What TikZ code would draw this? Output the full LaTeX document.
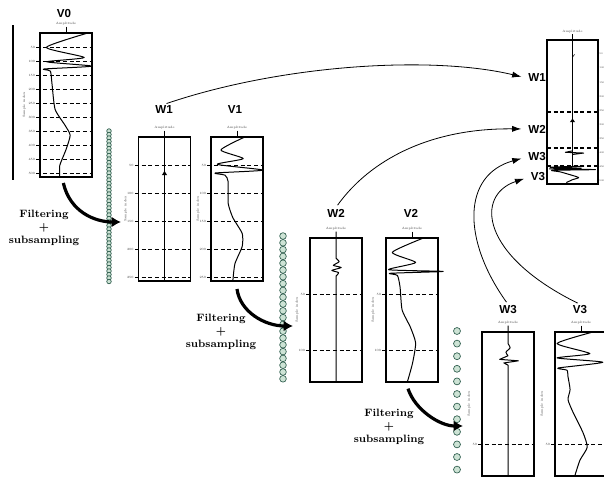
\documentclass[tikz,border=0pt]{standalone}
\usepackage{fontspec}
\usepackage{tikz}
\usetikzlibrary{arrows.meta,positioning,calc}
\newfontfamily\labfont{Liberation Sans}
\definecolor{beadline}{HTML}{2F5E4E}
\definecolor{beadfill}{HTML}{CDE3D5}
\tikzset{sigbox/.style={draw=black,line width=0.8pt,minimum width=39pt,minimum height=108pt,inner sep=0pt,outer sep=0pt}, lab/.style={font=\labfont\bfseries\fontsize{8.7}{10}\selectfont,inner sep=1pt}, note/.style={font=\bfseries\fontsize{8}{10}\selectfont,align=center,inner sep=1pt}, ticktext/.style={font=\fontsize{2.4}{3}\selectfont,text=black!75,inner sep=0.4pt}, sepline/.style={line width=0.8pt,dash pattern=on 3pt off 2pt}, sig/.style={line width=0.75pt,line join=round}, link/.style={-{Latex[length=7pt,width=4.6pt]},line width=0.6pt,shorten >=4pt,shorten <=2pt}, filt/.style={-{Latex[length=7pt,width=8pt]},line width=2.4pt}, bead/.style={circle,draw=beadline,fill=beadfill,line width=0.5pt,inner sep=0pt}}

\begin{document}
\begin{tikzpicture}[x=0.75pt,y=-0.75pt]
\useasboundingbox (0,0) rectangle (604,479);
% signal frames
\node[sigbox] (V0) at (66,105) {};
\node[sigbox] (W1) at (164.5,209) {};
\node[sigbox] (V1) at (237,209) {};
\node[sigbox] (W2) at (336,310) {};
\node[sigbox] (V2) at (412,310) {};
\node[sigbox] (W3) at (508,404) {};
\node[sigbox,minimum width=45pt] (V3) at (585,404) {};
\node[sigbox,minimum width=38.25pt] (R) at (572.5,112) {};
% titles
\node[lab] (lV0) at (64,14) {V0};
\node[lab] (lW1) at (164,110) {W1};
\node[lab] (lV1) at (235,110) {V1};
\node[lab] (lW2) at (336,213) {W2};
\node[lab] (lV2) at (411,213) {V2};
\node[lab] (lW3) at (508,310) {W3};
\node[lab] (lV3) at (580,310) {V3};
\node[lab] (tW1) at (537,78) {W1};
\node[lab] (tW2) at (537,129) {W2};
\node[lab] (tW3) at (537,157) {W3};
\node[lab] (tV3) at (538,177) {V3};
\node[note] (f1) at (44,228) {Filtering\\+\\subsampling};
\node[note] (f2) at (221,332) {Filtering\\+\\subsampling};
\node[note] (f3) at (389,427) {Filtering\\+\\subsampling};
% original samples and bead columns
\draw[line width=2.2pt] (13,25) -- (13,180);
\foreach \i in {0,...,43} \node[bead,minimum size=3.4pt] (a\i) at (109,131+3.5*\i) {};
\foreach \i in {0,...,21} \node[bead,minimum size=5pt] (b\i) at (283,236+6.8*\i) {};
\foreach \i in {0,...,11} \node[bead,minimum size=5.2pt] (c\i) at (457,331+12.6*\i) {};

% V0
\begin{scope}[shift={(V0.north west)},x=39pt,y=-108pt]
\foreach \k [evaluate=\k as \n using int(50*\k)] in {1,...,10} {
  \draw[sepline] (-0.07,\k*50/512) -- (1,\k*50/512);
  \node[ticktext,anchor=east] at (-0.08,\k*50/512) {\n};}
\node[ticktext,rotate=90] at (-0.3,0.5) {Sample index};
\draw[line width=0.3pt] (0.5,-0.045) -- (0.5,0);
\node[ticktext] at (0.5,-0.065) {Amplitude};
\draw[sig] plot[smooth,tension=0.35] coordinates {(0.92,0.0) (0.12,0.10) (0.85,0.17) (0.13,0.20) (1.0,0.23) (0.08,0.25) (0.2,0.265) (0.23,0.35) (0.29,0.53) (0.48,0.64) (0.58,0.71) (0.5,0.81) (0.38,0.92) (0.38,1.0)};
\end{scope}

% W1
\begin{scope}[shift={(W1.north west)},x=39pt,y=-108pt]
\foreach \k [evaluate=\k as \n using int(50*\k)] in {1,...,5} {
  \draw[sepline] (-0.07,\k*50/256) -- (1,\k*50/256);
  \node[ticktext,anchor=east] at (-0.08,\k*50/256) {\n};}
\node[ticktext,rotate=90] at (-0.25,0.5) {Sample index};
\node[ticktext] at (0.5,-0.065) {Amplitude};
\draw[line width=0.9pt] (0.5,-0.045) -- (0.5,1);
\fill (0.45,0.265) -- (0.5,0.235) -- (0.55,0.265) -- cycle;
\end{scope}

% V1
\begin{scope}[shift={(V1.north west)},x=39pt,y=-108pt]
\foreach \k [evaluate=\k as \n using int(50*\k)] in {1,...,5} {
  \draw[sepline] (-0.07,\k*50/256) -- (1,\k*50/256);
  \node[ticktext,anchor=east] at (-0.08,\k*50/256) {\n};}
\node[ticktext,rotate=90] at (-0.25,0.5) {Sample index};
\draw[line width=0.3pt] (0.5,-0.045) -- (0.5,0);
\node[ticktext] at (0.5,-0.065) {Amplitude};
\draw[sig] plot[smooth,tension=0.35] coordinates {(0.65,0.0) (0.19,0.09) (0.62,0.15) (0.12,0.19) (1.0,0.23) (0.08,0.25) (0.27,0.265) (0.33,0.31) (0.33,0.46) (0.42,0.56) (0.6,0.67) (0.6,0.76) (0.46,0.88) (0.42,1.0)};
\end{scope}

% W2
\begin{scope}[shift={(W2.north west)},x=39pt,y=-108pt]
\foreach \k [evaluate=\k as \n using int(50*\k)] in {1,2} {
  \draw[sepline] (-0.07,\k*50/128) -- (1,\k*50/128);
  \node[ticktext,anchor=east] at (-0.08,\k*50/128) {\n};}
\node[ticktext,rotate=90] at (-0.25,0.5) {Sample index};
\node[ticktext] at (0.5,-0.065) {Amplitude};
\draw[sig] (0.5,-0.045) -- (0.5,0.14) plot[smooth,tension=0.35] coordinates {(0.5,0.14) (0.56,0.165) (0.45,0.19) (0.6,0.205) (0.42,0.225) (0.55,0.24) (0.5,0.265)} -- (0.5,1);
\end{scope}

% V2
\begin{scope}[shift={(V2.north west)},x=39pt,y=-108pt]
\foreach \k [evaluate=\k as \n using int(50*\k)] in {1,2} {
  \draw[sepline] (-0.07,\k*50/128) -- (1,\k*50/128);
  \node[ticktext,anchor=east] at (-0.08,\k*50/128) {\n};}
\node[ticktext,rotate=90] at (-0.25,0.5) {Sample index};
\draw[line width=0.3pt] (0.5,-0.045) -- (0.5,0);
\node[ticktext] at (0.5,-0.065) {Amplitude};
\draw[sig] plot[smooth,tension=0.35] coordinates {(0.72,0.0) (0.12,0.10) (0.57,0.17) (0.05,0.22) (1.1,0.232) (0.08,0.245) (0.22,0.26) (0.27,0.34) (0.31,0.5) (0.47,0.62) (0.57,0.73) (0.51,0.87) (0.41,1.0)};
\end{scope}

% W3
\begin{scope}[shift={(W3.north west)},x=39pt,y=-108pt]
\draw[sepline] (-0.07,50/64) -- (1,50/64);
\node[ticktext,anchor=east] at (-0.08,50/64) {50};
\node[ticktext,rotate=90] at (-0.25,0.5) {Sample index};
\node[ticktext] at (0.5,-0.065) {Amplitude};
\draw[sig] (0.5,-0.045) -- (0.5,0.08) plot[smooth,tension=0.35] coordinates {(0.5,0.08) (0.54,0.11) (0.46,0.14) (0.5,0.165)} -- (0.34,0.19) -- (0.7,0.2) -- (0.42,0.215) -- (0.5,0.23) -- (0.5,1);
\end{scope}

% V3
\begin{scope}[shift={(V3.north west)},x=39pt,y=-108pt]
\draw[sepline] (-0.07,50/64) -- (1.2,50/64);
\node[ticktext,anchor=east] at (-0.08,50/64) {50};
\node[ticktext,rotate=90] at (-0.25,0.5) {Sample index};
\draw[line width=0.3pt] (0.5,-0.045) -- (0.5,0);
\node[ticktext] at (0.5,-0.065) {Amplitude};
\draw[sig] plot[smooth,tension=0.35] coordinates {(0.73,0.0) (0.04,0.08) (0.67,0.15) (0.04,0.18) (0.92,0.21) (0.06,0.25) (0.23,0.265) (0.25,0.31) (0.29,0.40) (0.25,0.47) (0.35,0.56) (0.54,0.7) (0.62,0.8) (0.48,0.89) (0.38,1.0)};
\end{scope}

% result
\begin{scope}[shift={(R.north west)},x=38.25pt,y=-108pt]
\foreach \t in {0.5,0.75,0.875} \draw[sepline] (0,\t) -- (1,\t);
\foreach \k [evaluate=\k as \n using int(50*\k)] in {1,...,10}
  \node[ticktext,font=\fontsize{1.9}{2.4}\selectfont,anchor=west,inner sep=0pt] at (1.02,\k*50/512) {\n};
\node[ticktext] at (0.5,-0.055) {Amplitude};
\draw[line width=0.45pt] (0.5,-0.04) -- (0.5,0.875);
\draw[line width=0.4pt] (0.5,0.12) -- (0.54,0.1);
\fill (0.45,0.57) -- (0.5,0.545) -- (0.55,0.57) -- cycle;
\draw[sig] (0.5,0.77) -- (0.36,0.78) -- (0.72,0.785) -- (0.5,0.795);
\draw[sig] plot[smooth,tension=0.35] coordinates {(0.73,0.876) (0.06,0.884) (0.67,0.89) (0.05,0.895) (0.95,0.9) (0.1,0.905) (0.25,0.915) (0.4,0.93) (0.62,0.955) (0.5,0.97) (0.38,0.99)};
\end{scope}

% filtering arrows
\coordinate (in1) at (121,222);
\coordinate (in2) at (293,326);
\coordinate (in3) at (463,426);
\draw[filt] ([xshift=-2pt,yshift=-4.5pt]V0.south) .. controls (70,212) and (95,222) .. (in1);
\draw[filt] ([yshift=-6pt]V1.south) .. controls (240,312) and (265,326) .. (in2);
\draw[filt] ([xshift=-3pt,yshift=-5pt]V2.south) .. controls (415,410) and (440,426) .. (in3);
% into the result
\draw[link] (lW1.north) .. controls (280,65) and (430,55) .. (tW1.west);
\draw[link] (lW2.north) .. controls (370,160) and (430,128) .. (tW2.west);
\draw[link] (lW3.north) .. controls (462,240) and (462,175) .. (tW3.west);
\draw[link] (lV3.north) .. controls (480,255) and (475,195) .. (tV3.west);
\end{tikzpicture}
\end{document}
